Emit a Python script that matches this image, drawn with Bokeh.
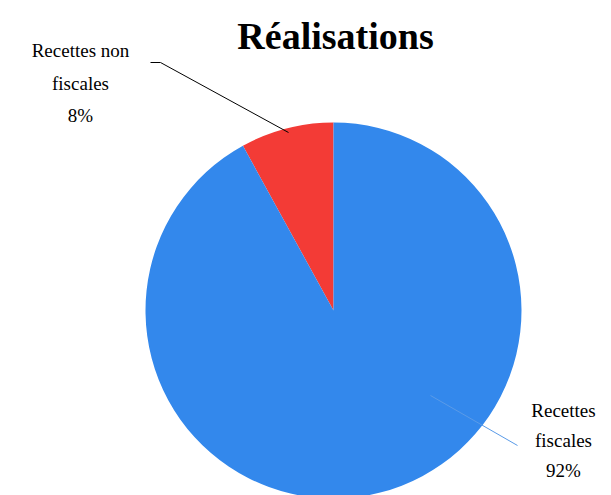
from math import pi
from bokeh.plotting import figure
from bokeh.models import Range1d
from bokeh.core.properties import value
from bokeh.embed import file_html
from bokeh.resources import INLINE

categories = ["Recettes fiscales", "Recettes non fiscales"]
shares = [92, 8]
colors = ["#3388EC", "#F33B36"]

p = figure(width=611, height=495, output_backend="svg", toolbar_location=None,
           x_range=Range1d(0, 611), y_range=Range1d(0, 495), min_border=0)
p.axis.visible = False
p.grid.visible = False
p.outline_line_color = None

# pie starts at top, red slice goes counterclockwise
cx, cy, r = 333, 185, 188
top = pi / 2
red_end = top + shares[1] / sum(shares) * 2 * pi
p.wedge(x=cx, y=cy, radius=r, start_angle=top, end_angle=red_end, fill_color=colors[1], line_color=None)
p.wedge(x=cx, y=cy, radius=r, start_angle=red_end, end_angle=top + 2 * pi, fill_color=colors[0], line_color=None)

p.text(x=[335], y=[460], text=["Réalisations"], text_font=value("Liberation Serif"), text_font_size="38px",
       text_font_style="bold", text_align="center", text_baseline="middle", text_color="black")

lab = dict(text_font=value("Liberation Serif"), text_font_size="19px", text_align="center",
           text_baseline="middle", text_color="black")
p.text(x=[80, 80, 80], y=[445, 412, 380], text=["Recettes non", "fiscales", "%d%%" % shares[1]], **lab)
p.text(x=[563, 563, 563], y=[85, 55, 25], text=["Recettes", "fiscales", "%d%%" % shares[0]], **lab)

p.line(x=[150, 160, 288], y=[433, 433, 363], line_color="black", line_width=1)
p.line(x=[430, 517], y=[100, 50], line_color="#5A9BE8", line_width=1)

open("out.html", "w").write(file_html(p, INLINE))
